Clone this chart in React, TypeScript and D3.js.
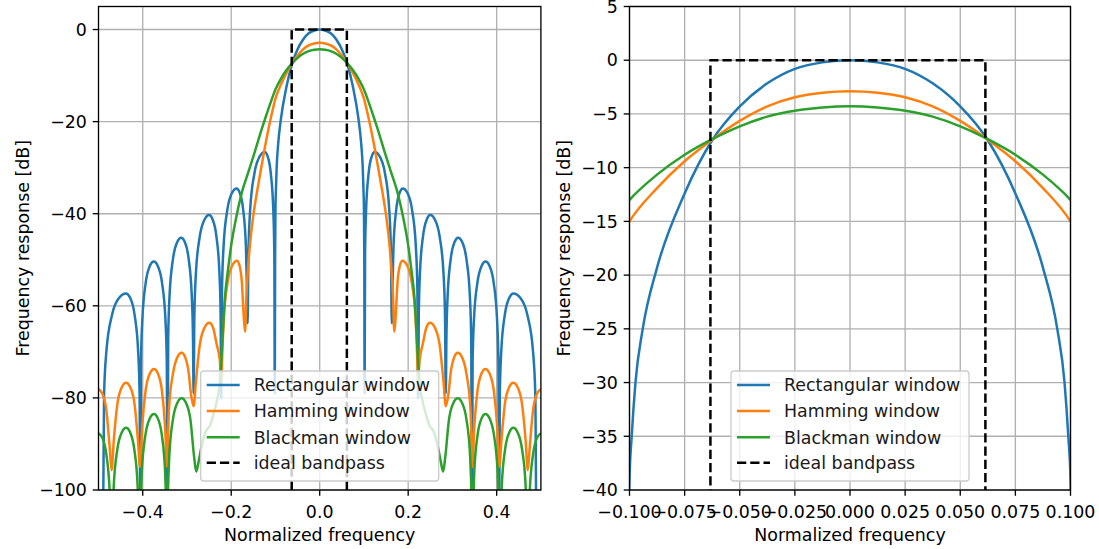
import React from "react";
import * as d3 from "d3";

// ---------- data ----------
// One half (f >= 0) of each symmetric magnitude response: [normalized frequency, dB]
const rectangularHalf: [number, number][] = [
  [0, 0], [0.0125, -0.2], [0.025, -0.8], [0.0375, -2.15], [0.05, -4.3], [0.0625, -7.45], [0.075, -12.4],
  [0.0875, -19.3], [0.094, -25], [0.0973, -30], [0.099, -35], [0.1, -39],
  [0.1008, -50], [0.1015, -79],
  [0.1026, -48.6], [0.1049, -39.2], [0.1106, -31.2], [0.1175, -27.6], [0.1243, -26.6], [0.1359, -27.6],
  [0.1475, -31.2], [0.1572, -39.2], [0.1611, -48.6], [0.163, -63.8],
  [0.1643, -56.5], [0.1668, -47.1], [0.173, -39.1], [0.1805, -35.5], [0.188, -34.5], [0.1984, -35.5],
  [0.2087, -39.1], [0.2173, -47.1], [0.2208, -56.5], [0.2225, -80],
  [0.2239, -62.3], [0.2266, -52.9], [0.2335, -44.9], [0.2418, -41.3], [0.25, -40.3], [0.2605, -41.3],
  [0.271, -44.9], [0.2798, -52.9], [0.2833, -62.3], [0.285, -79],
  [0.2864, -67.2], [0.2892, -57.8], [0.2962, -49.8], [0.3046, -46.2], [0.313, -45.2], [0.3223, -46.2],
  [0.3316, -49.8], [0.3394, -57.8], [0.3425, -67.2], [0.344, -110],
  [0.3456, -72.4], [0.3487, -63], [0.3564, -55], [0.3657, -51.4], [0.375, -50.4], [0.3842, -51.4],
  [0.3933, -55], [0.4009, -63], [0.404, -72.4], [0.4055, -110],
  [0.4071, -79.3], [0.4104, -69.9], [0.4185, -61.9], [0.4283, -58.3], [0.438, -57.3], [0.4536, -58.3],
  [0.4692, -61.9], [0.4822, -69.9], [0.4874, -79.3], [0.49, -110], [0.5, -110],
];

const hammingHalf: [number, number][] = [
  [0, -2.89], [0.0125, -3.03], [0.025, -3.45], [0.0375, -4.3], [0.05, -5.65], [0.0625, -7.4],
  [0.075, -9.4], [0.0875, -11.9], [0.1, -15], [0.11, -19], [0.12, -23.6], [0.1318, -29.8], [0.14, -34.3],
  [0.1505, -40.7], [0.1565, -45.5], [0.1618, -51.5], [0.1655, -57.5], [0.1687, -65.6],
  [0.1714, -62.8], [0.176, -54.8], [0.1814, -51.2], [0.1868, -50.2], [0.1974, -51.2], [0.2079, -54.8],
  [0.2167, -62.8], [0.2202, -70.5], [0.222, -76],
  [0.2262, -71.5], [0.233, -68.3], [0.2412, -64.7], [0.2494, -63.7], [0.2601, -64.7], [0.2708, -68.3],
  [0.2797, -76.3], [0.285, -81.8],
  [0.2918, -78.5], [0.2958, -74.8], [0.3039, -71.2], [0.312, -70.2], [0.3219, -71.2], [0.3318, -74.8],
  [0.341, -82.8], [0.3434, -90], [0.345, -95],
  [0.3494, -86.3], [0.3568, -78.3], [0.3657, -74.7], [0.3745, -73.7], [0.384, -74.7], [0.3934, -78.3],
  [0.4013, -86.3], [0.406, -95],
  [0.4107, -89.3], [0.4186, -81.3], [0.4281, -77.7], [0.4376, -76.7], [0.4474, -77.7], [0.4573, -81.3],
  [0.4655, -89.3], [0.4704, -95.7],
  [0.4748, -90.7], [0.4822, -82.7], [0.4911, -79.1], [0.5, -78.1],
];

const blackmanHalf: [number, number][] = [
  [0, -4.29], [0.0125, -4.4], [0.025, -4.7], [0.0375, -5.25], [0.05, -6.15], [0.0625, -7.35],
  [0.075, -8.8], [0.0875, -10.65], [0.1, -13], [0.11, -15.6], [0.12, -18.4], [0.13, -21.3],
  [0.1469, -26.6], [0.16, -30.6], [0.177, -35.8], [0.19, -41.4], [0.1995, -46.5], [0.207, -52],
  [0.2147, -58.8], [0.219, -66], [0.2225, -72], [0.226, -77], [0.232, -80.5], [0.24, -83.5],
  [0.248, -86], [0.256, -87], [0.262, -88.5], [0.268, -91], [0.274, -94], [0.279, -96],
  [0.284, -92.7], [0.2922, -84.7], [0.3021, -81.1], [0.312, -80.1], [0.3219, -81.1], [0.3318, -84.7],
  [0.34, -92.7], [0.3434, -102], [0.345, -110],
  [0.3465, -105.5], [0.3494, -96.1], [0.3568, -88.1], [0.3657, -84.5], [0.3745, -83.5], [0.3843, -84.5],
  [0.394, -88.1], [0.4021, -96.1], [0.4054, -105.5], [0.407, -110],
  [0.4085, -108.5], [0.4116, -99.1], [0.4192, -91.1], [0.4284, -87.5], [0.4376, -86.5], [0.4474, -87.5],
  [0.4573, -91.1], [0.4655, -99.1], [0.4688, -108.5], [0.4704, -110],
  [0.4719, -109.7], [0.4748, -100.3], [0.4822, -92.3], [0.4911, -88.7], [0.5, -87.7],
];

const bandpassFreq = [-0.0633, -0.0633, 0.0614, 0.0614];
const bandpassDb = [-100, 0, 0, -100];

const seriesLabels = ["Rectangular window", "Hamming window", "Blackman window", "ideal bandpass"];
const seriesColors = ["#1f77b4", "#ff7f0e", "#2ca02c", "#000000"];

const leftXDomain: [number, number] = [-0.5, 0.5];
const leftYDomain: [number, number] = [-100, 5];
const leftXTicks = [-0.4, -0.2, 0, 0.2, 0.4];
const leftYTicks = [0, -20, -40, -60, -80, -100];

const rightXDomain: [number, number] = [-0.1, 0.1];
const rightYDomain: [number, number] = [-40, 5];
const rightXTicks = [-0.1, -0.075, -0.05, -0.025, 0, 0.025, 0.05, 0.075, 0.1];
const rightYTicks = [5, 0, -5, -10, -15, -20, -25, -30, -35, -40];

const xLabel = "Normalized frequency";
const yLabel = "Frequency response [dB]";

// ---------- helpers ----------
type Pt = [number, number];
const mirrorHalf = (half: Pt[]): Pt[] =>
  half.slice(1).map(([f, v]) => [-f, v] as Pt).reverse().concat(half);

const rectangular = mirrorHalf(rectangularHalf);
const hamming = mirrorHalf(hammingHalf);
const blackman = mirrorHalf(blackmanHalf);
const bandpass: Pt[] = bandpassFreq.map((f, i) => [f, bandpassDb[i]] as Pt);
const responses = [rectangular, hamming, blackman];

const FONT = "DejaVu Sans, sans-serif";
const FS = 17.4;
const minus = (s: string) => s.replace(/-/g, "\u2212");

interface PanelProps {
  id: string;
  left: number; right: number; top: number; bottom: number;
  xDomain: [number, number]; yDomain: [number, number];
  xTicks: number[]; yTicks: number[];
  xFmt: (n: number) => string; yFmt: (n: number) => string;
  ylabelX: number;
}

function Panel(p: PanelProps) {
  const xs = d3.scaleLinear().domain(p.xDomain).range([p.left, p.right]);
  const ys = d3.scaleLinear().domain(p.yDomain).range([p.bottom, p.top]);
  const line = d3.line<Pt>().x(d => xs(d[0])).y(d => ys(d[1])).curve(d3.curveMonotoneX);
  const lineLin = d3.line<Pt>().x(d => xs(d[0])).y(d => ys(d[1]));
  const tickLen = 5.8;
  const pad = 5.8;
  const cx = (p.left + p.right) / 2;
  const cy = (p.top + p.bottom) / 2;
  const legW = 238, legH = 110;
  const legX = cx - legW / 2;
  const legY = p.bottom - 9 - legH;
  const rowY = [14, 40, 66.3, 91.7];
  return (
    <g>
      <defs>
        <clipPath id={p.id}>
          <rect x={p.left} y={p.top} width={p.right - p.left} height={p.bottom - p.top} />
        </clipPath>
      </defs>
      <g stroke="#b0b0b0" strokeWidth={1.33}>
        {p.xTicks.map((t, i) => (
          <line key={"gx" + i} x1={xs(t)} x2={xs(t)} y1={p.top} y2={p.bottom} />
        ))}
        {p.yTicks.map((t, i) => (
          <line key={"gy" + i} x1={p.left} x2={p.right} y1={ys(t)} y2={ys(t)} />
        ))}
      </g>
      <g clipPath={`url(#${p.id})`} fill="none" strokeWidth={2.5} strokeLinejoin="round">
        {responses.map((r, i) => (
          <path key={"c" + i} d={line(r) || ""} stroke={seriesColors[i]} />
        ))}
        <path d={lineLin(bandpass) || ""} stroke={seriesColors[3]} strokeDasharray="9.25,4" />
      </g>
      <rect x={p.left} y={p.top} width={p.right - p.left} height={p.bottom - p.top}
        fill="none" stroke="#000" strokeWidth={1.33} />
      <g stroke="#000" strokeWidth={1.33}>
        {p.xTicks.map((t, i) => (
          <line key={"tx" + i} x1={xs(t)} x2={xs(t)} y1={p.bottom} y2={p.bottom + tickLen} />
        ))}
        {p.yTicks.map((t, i) => (
          <line key={"ty" + i} x1={p.left - tickLen} x2={p.left} y1={ys(t)} y2={ys(t)} />
        ))}
      </g>
      <g fontFamily={FONT} fontSize={FS} fill="#000">
        {p.xTicks.map((t, i) => (
          <text key={"lx" + i} x={xs(t)} y={p.bottom + tickLen + pad + 16} textAnchor="middle">
            {p.xFmt(t)}
          </text>
        ))}
        {p.yTicks.map((t, i) => (
          <text key={"ly" + i} x={p.left - tickLen - pad} y={ys(t)} dy="0.36em" textAnchor="end">
            {p.yFmt(t)}
          </text>
        ))}
        <text x={cx} y={541} textAnchor="middle">{xLabel}</text>
        <text transform={`translate(${p.ylabelX},${cy}) rotate(-90)`} textAnchor="middle">{yLabel}</text>
      </g>
      <g>
        <rect x={legX} y={legY} width={legW} height={legH} rx={3} ry={3}
          fill="#ffffff" fillOpacity={0.8} stroke="#cccccc" strokeWidth={1.33} />
        {seriesLabels.map((lab, i) => (
          <g key={"lg" + i}>
            <line x1={legX + 6} x2={legX + 39} y1={legY + rowY[i]} y2={legY + rowY[i]}
              stroke={seriesColors[i]} strokeWidth={2.5}
              strokeDasharray={i === 3 ? "9.25,4" : undefined} />
            <text x={legX + 53} y={legY + rowY[i]} dy="0.36em" fontFamily={FONT} fontSize={FS} fill="#1a1a1a">
              {lab}
            </text>
          </g>
        ))}
      </g>
    </g>
  );
}

export default function App() {
  const fmt1 = (n: number) => minus(d3.format(".1f")(n));
  const fmt3 = (n: number) => minus(d3.format(".3f")(n));
  const fmtD = (n: number) => minus(d3.format("d")(n));
  return (
    <svg width={1099} height={549} style={{ position: "absolute", left: 0, top: 0, background: "#fff" }}>
      <rect x={0} y={0} width={1099} height={549} fill="#fff" />
      <Panel id="clipL" left={98.5} right={540.9} top={6.5} bottom={490}
        xDomain={leftXDomain} yDomain={leftYDomain} xTicks={leftXTicks} yTicks={leftYTicks}
        xFmt={fmt1} yFmt={fmtD} ylabelX={29} />
      <Panel id="clipR" left={629.5} right={1070.5} top={6.5} bottom={490}
        xDomain={rightXDomain} yDomain={rightYDomain} xTicks={rightXTicks} yTicks={rightYTicks}
        xFmt={fmt3} yFmt={fmtD} ylabelX={570} />
    </svg>
  );
}
